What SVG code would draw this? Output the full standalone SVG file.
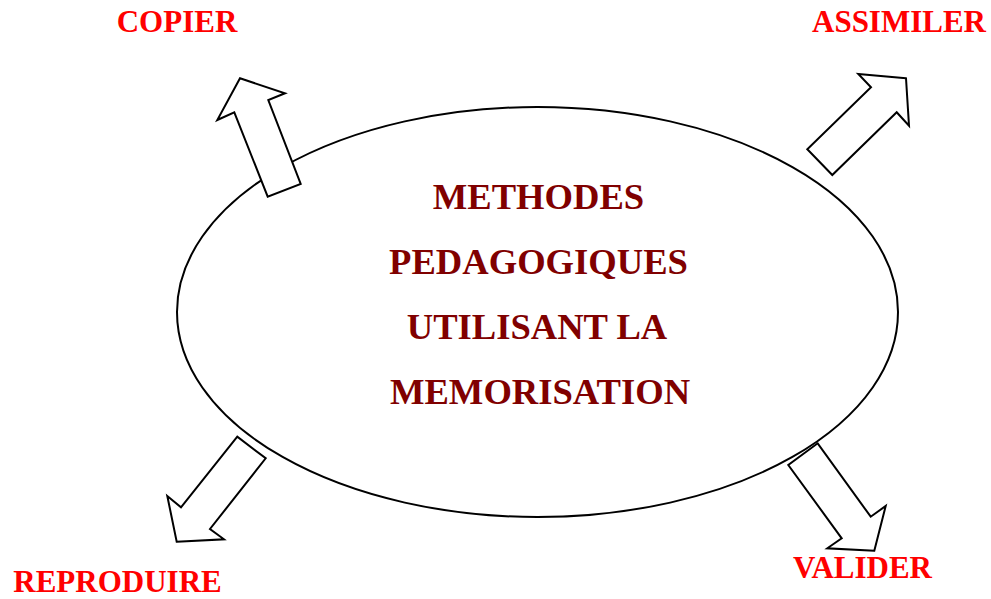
<svg xmlns="http://www.w3.org/2000/svg" width="991" height="599" viewBox="0 0 991 599">
<style>
.arrow{fill:#fff;stroke:#000;stroke-width:2;stroke-linejoin:miter}
.lbl{font-family:"Liberation Serif","Times New Roman",serif;font-weight:bold;font-size:31px;fill:#ff0000;text-anchor:middle}
.ctr{font-family:"Liberation Serif","Times New Roman",serif;font-weight:bold;font-size:36.6px;fill:#800000;text-anchor:middle}
</style>
<rect width="991" height="599" fill="#fff"/>
<g id="center">
<ellipse cx="537.5" cy="312" rx="360.5" ry="205" fill="#fff" stroke="#000" stroke-width="2"/>
<text class="ctr" x="538.5" y="209">METHODES</text>
<text class="ctr" x="538.5" y="274">PEDAGOGIQUES</text>
<text class="ctr" x="537" y="339">UTILISANT LA</text>
<text class="ctr" x="540" y="404">MEMORISATION</text>
</g>
<g id="connectors">
<polygon class="arrow" points="240,78.3 285,93.3 268.3,100 300.7,184 267.7,196.7 234.3,112.3 217.3,120"/>
<polygon class="arrow" points="906,78.3 858.3,74 871,87.3 807.3,149.3 832.3,175 896.7,112.3 909,125.7"/>
<polygon class="arrow" points="176.7,541.7 224,539.3 210,529 265.7,458.3 237.3,436.7 181,507.3 167.3,496"/>
<polygon class="arrow" points="874.3,550.7 827.3,548.3 841.7,538.3 788.3,465 817.7,443.3 870.7,516.7 885.7,506"/>
</g>
<g id="copier"><text class="lbl" x="177" y="32">COPIER</text></g>
<g id="assimiler"><text class="lbl" x="899" y="32">ASSIMILER</text></g>
<g id="reproduire"><text class="lbl" x="117.5" y="592">REPRODUIRE</text></g>
<g id="valider"><text class="lbl" x="862.5" y="578">VALIDER</text></g>
</svg>
